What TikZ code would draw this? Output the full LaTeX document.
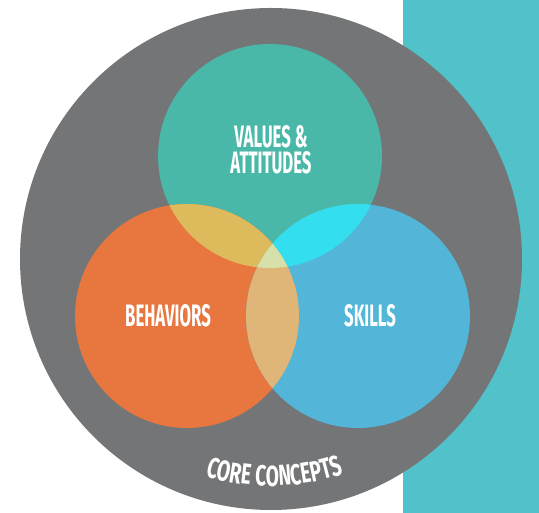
\documentclass[tikz,border=0pt]{standalone}
\usepackage{fontspec}
\newfontfamily\venfont[FakeStretch=0.54]{Fira Sans}
\newfontfamily\corefont[FakeStretch=0.66]{Fira Sans}
\usetikzlibrary{calc,decorations.text}

\definecolor{ringgrey}{HTML}{747577}
\definecolor{sidebar}{HTML}{52C2CA}
\definecolor{valteal}{HTML}{4AB8A8}
\definecolor{behorange}{HTML}{E8773F}
\definecolor{skillblue}{HTML}{53B5D8}
\definecolor{valbeh}{HTML}{DDBA5C}
\definecolor{valskill}{HTML}{33DFEE}
\definecolor{behskill}{HTML}{DFB677}
\definecolor{allthree}{HTML}{D6E0A8}

\tikzset{
  venlabel/.style={text=white, font=\venfont\bfseries\fontsize{31}{26}\selectfont,
    align=center, inner sep=0pt}
}

\begin{document}
\begin{tikzpicture}[x=1pt,y=1pt]
  \useasboundingbox (0,0) rectangle (539,513);
  \coordinate (core) at (271,254);
  \coordinate (val) at (270,357);
  \coordinate (beh) at (187,197);
  \coordinate (skl) at (358,197);

  % background
  \fill[sidebar] (403,0) rectangle (539,513);
  \fill[ringgrey] (core) circle (251pt);

  % the three sets
  \fill[valteal] (val) circle (112pt);
  \fill[behorange] (beh) circle (112pt);
  \fill[skillblue] (skl) circle (112pt);

  % overlaps
  \begin{scope}
    \clip (val) circle (112pt);
    \fill[valbeh] (beh) circle (112pt);
    \fill[valskill] (skl) circle (112pt);
  \end{scope}
  \begin{scope}
    \clip (beh) circle (112pt);
    \fill[behskill] (skl) circle (112pt);
    \clip (skl) circle (112pt);
    \fill[allthree] (val) circle (112pt);
  \end{scope}

  % labels
  \node[venlabel] (vallabel) at (271,363) {VALUES \&\\ATTITUDES};
  \node[venlabel] (behlabel) at (168,197) {BEHAVIORS};
  \node[venlabel] (skllabel) at (370,197) {SKILLS};

  \path[decorate, decoration={text along path, text align=center,
      text={|\corefont\bfseries\fontsize{29}{29}\selectfont\color{white}|CORE CONCEPTS}}]
    ($(core)+(232:227pt)$) arc[start angle=232, end angle=310, radius=227pt];
\end{tikzpicture}
\end{document}
